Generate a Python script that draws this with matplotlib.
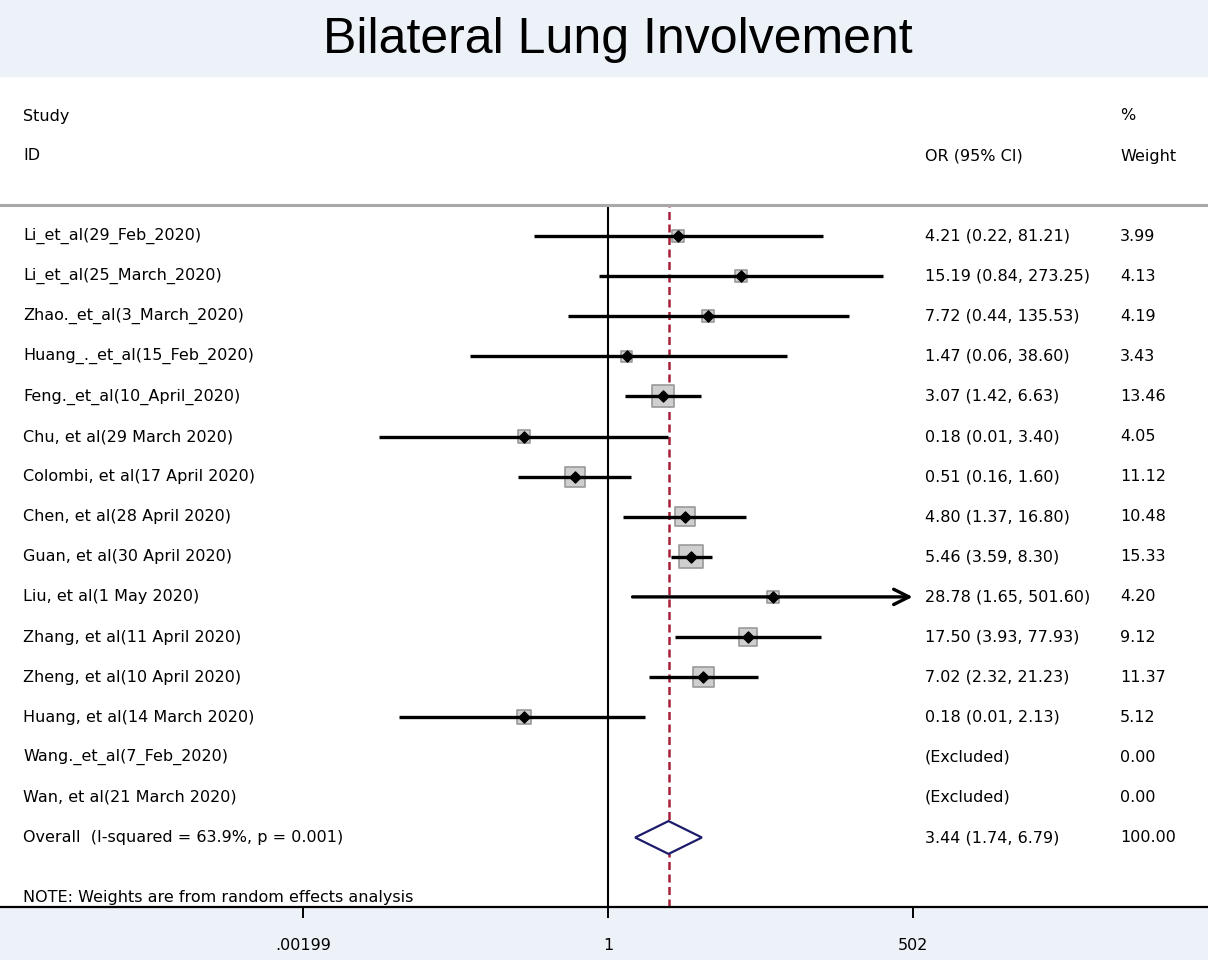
import numpy as np
import matplotlib
matplotlib.use('Agg')
import matplotlib.pyplot as plt
from matplotlib.patches import Rectangle
from matplotlib.transforms import blended_transform_factory

plt.rcParams['font.family'] = ['DejaVu Sans']

studies = ['Li_et_al(29_Feb_2020)', 'Li_et_al(25_March_2020)', 'Zhao._et_al(3_March_2020)',
           'Huang_._et_al(15_Feb_2020)', 'Feng._et_al(10_April_2020)', 'Chu, et al(29 March 2020)',
           'Colombi, et al(17 April 2020)', 'Chen, et al(28 April 2020)', 'Guan, et al(30 April 2020)',
           'Liu, et al(1 May 2020)', 'Zhang, et al(11 April 2020)', 'Zheng, et al(10 April 2020)',
           'Huang, et al(14 March 2020)', 'Wang._et_al(7_Feb_2020)', 'Wan, et al(21 March 2020)']
odds = [4.21, 15.19, 7.72, 1.47, 3.07, 0.18, 0.51, 4.80, 5.46, 28.78, 17.50, 7.02, 0.18, np.nan, np.nan]
ci_low = [0.22, 0.84, 0.44, 0.06, 1.42, 0.0094, 0.16, 1.37, 3.59, 1.65, 3.93, 2.32, 0.014, np.nan, np.nan]
ci_high = [81.21, 273.25, 135.53, 38.60, 6.63, 3.40, 1.60, 16.80, 8.30, 501.60, 77.93, 21.23, 2.13, np.nan, np.nan]
weights = [3.99, 4.13, 4.19, 3.43, 13.46, 4.05, 11.12, 10.48, 15.33, 4.20, 9.12, 11.37, 5.12, 0.00, 0.00]

overall_label = 'Overall  (I-squared = 63.9%, p = 0.001)'
overall_or, overall_lo, overall_hi = 3.44, 1.74, 6.79
note = 'NOTE: Weights are from random effects analysis'
xticks = [0.00199, 1, 502]
xticklabels = ['.00199', '1', '502']

W, H = 1208, 960
fig = plt.figure(figsize=(W / 100, H / 100), dpi=100)

# light blue bands top and bottom
band = '#edf2f9'
fig.patches.append(Rectangle((0, 1 - 76 / H), 1, 76 / H, transform=fig.transFigure,
                             color=band, zorder=-10))
fig.patches.append(Rectangle((0, 0), 1, 53 / H, transform=fig.transFigure,
                             color=band, zorder=-10))

ax_top, ax_bot = 205, 907
ax = fig.add_axes([0, 1 - ax_bot / H, 1, (ax_bot - ax_top) / H])
ax.patch.set_alpha(0)
ax.set_xscale('log')
px_per_ln = 49.0
ax.set_xlim(np.exp(-608 / px_per_ln), np.exp((W - 608) / px_per_ln))

row_h = 40.1
first = 236
ax.set_ylim((ax_bot - first) / row_h, (ax_top - first) / row_h)

for s in ['left', 'right']:
    ax.spines[s].set_visible(False)
ax.spines['top'].set_color('#a8a8a8')
ax.spines['top'].set_linewidth(2.2)
ax.spines['bottom'].set_linewidth(1.6)
ax.set_yticks([])
ax.set_xticks(xticks)
ax.xaxis.set_minor_locator(matplotlib.ticker.NullLocator())
ax.set_xticklabels(xticklabels, fontsize=11.5)
ax.tick_params(axis='x', length=8, width=1.4, pad=14)

ax.axvline(1, color='black', lw=1.5, zorder=1)
ax.axvline(overall_or, color='#a8213a', lw=1.8, ls=(0, (3.2, 1.8)), zorder=1)

rows = np.arange(len(studies))
odds = np.array(odds)
ci_low = np.array(ci_low)
ci_high = np.array(ci_high)
weights = np.array(weights)
shown = ~np.isnan(odds)

# CI lines
for i in rows[shown]:
    if ci_high[i] > 500:
        ax.annotate('', xy=(ci_high[i], i), xytext=(ci_low[i], i),
                    arrowprops=dict(arrowstyle='->,head_length=1.1,head_width=0.55',
                                    lw=2.4, color='black', shrinkA=0, shrinkB=0), zorder=3)
    else:
        ax.plot([ci_low[i], ci_high[i]], [i, i], color='black', lw=2.4,
                solid_capstyle='butt', zorder=3)

# weight boxes + point estimates
ax.scatter(odds[shown], rows[shown], marker='s', s=weights[shown] * 18.5,
           facecolor='#cfcfcf', edgecolor='#9a9a9a', lw=1.2, zorder=2)
ax.scatter(odds[shown], rows[shown], marker='D', s=32, color='black', zorder=4)

# overall diamond
oy = len(studies)
ax.fill([overall_lo, overall_or, overall_hi, overall_or],
        [oy, oy - 0.41, oy, oy + 0.41], facecolor='white', edgecolor='#1c1c6b',
        lw=1.6, zorder=4)

# text columns
tr = blended_transform_factory(fig.transFigure, ax.transData)
fs = 11.5
col_id, col_or, col_w = 23 / W, 925 / W, 1120 / W
for i in rows:
    ax.text(col_id, i, studies[i], transform=tr, va='center', fontsize=fs)
    if shown[i]:
        txt = f'{odds[i]:.2f} ({ci_low[i]:.2f}, {ci_high[i]:.2f})'
    else:
        txt = '(Excluded)'
    ax.text(col_or, i, txt, transform=tr, va='center', fontsize=fs)
    ax.text(col_w, i, f'{weights[i]:.2f}', transform=tr, va='center', fontsize=fs)

ax.text(col_id, oy, overall_label, transform=tr, va='center', fontsize=fs)
ax.text(col_or, oy, f'{overall_or:.2f} ({overall_lo:.2f}, {overall_hi:.2f})',
        transform=tr, va='center', fontsize=fs)
ax.text(col_w, oy, '100.00', transform=tr, va='center', fontsize=fs)
ax.text(col_id, oy + 1.5, note, transform=tr, va='center', fontsize=fs)

# header
def fy(px):
    return 1 - px / H

fig.text(col_id, fy(116), 'Study', va='center', fontsize=fs)
fig.text(col_id, fy(156), 'ID', va='center', fontsize=fs)
fig.text(col_or, fy(156), 'OR (95% CI)', va='center', fontsize=fs)
fig.text(col_w, fy(116), '%', va='center', fontsize=fs)
fig.text(col_w, fy(156), 'Weight', va='center', fontsize=fs)

fig.text(618 / W, fy(40), 'Bilateral Lung Involvement', ha='center', va='center',
         fontsize=36, family=['Liberation Sans', 'DejaVu Sans'])

fig.savefig('out.png', dpi=100)
